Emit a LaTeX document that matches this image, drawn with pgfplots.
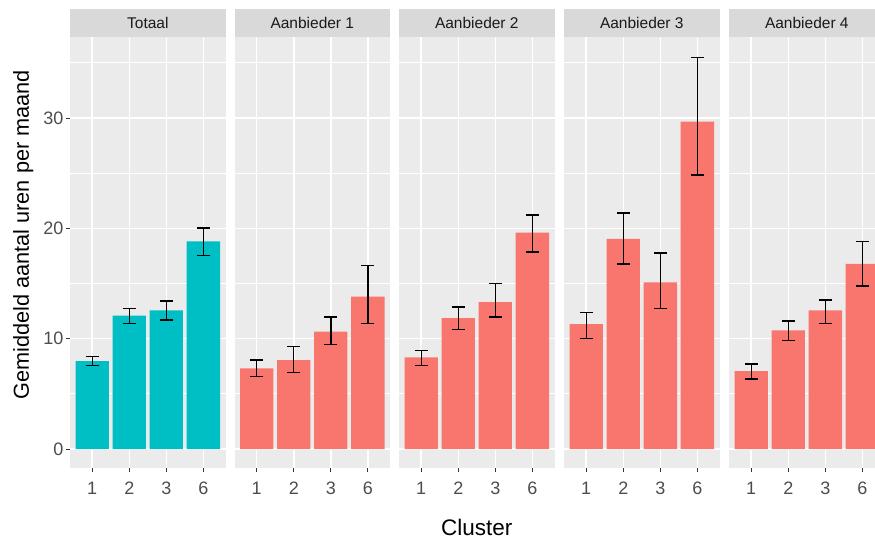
\documentclass[border=0pt]{standalone}
\usepackage{fontspec}
\setmainfont{Liberation Sans}
\usepackage{pgfplots}
\pgfplotsset{compat=1.18}
\usepackage{pgfplotstable}
\definecolor{ggteal}{HTML}{00BFC4}
\definecolor{ggred}{HTML}{F8766D}
\definecolor{panelbg}{HTML}{EBEBEB}
\definecolor{stripbg}{HTML}{D9D9D9}
\definecolor{ticktxt}{HTML}{4D4D4D}
\definecolor{tickcol}{HTML}{333333}
\definecolor{striptxt}{HTML}{1A1A1A}

\pgfplotstableread{
x y ep em
1 7.97 0.39 0.42
2 12.10 0.64 0.72
3 12.56 0.87 0.85
4 18.81 1.21 1.27
}\totaal
\pgfplotstableread{
x y ep em
1 7.31 0.75 0.76
2 8.06 1.21 1.15
3 10.63 1.33 1.15
4 13.80 2.84 2.42
}\aone
\pgfplotstableread{
x y ep em
1 8.30 0.64 0.75
2 11.87 0.99 1.03
3 13.32 1.66 1.36
4 19.60 1.62 1.73
}\atwo
\pgfplotstableread{
x y ep em
1 11.32 1.06 1.29
2 19.05 2.33 2.29
3 15.10 2.65 2.36
4 29.68 5.80 4.86
}\athree
\pgfplotstableread{
x y ep em
1 7.07 0.63 0.73
2 10.75 0.84 0.94
3 12.56 0.96 1.18
4 16.79 2.02 2.03
}\afour

\pgfplotsset{
  facet/.style={
    anchor=south west,
    scale only axis, width=155.6pt, height=431pt,
    xmin=0.4, xmax=4.6, ymin=-1.72, ymax=37.34,
    xtick={1,2,3,4}, xticklabels={1,2,3,6},
    ytick={0,10,20,30}, minor ytick={5,15,25,35},
    xtick pos=bottom, ytick pos=left,
    xmajorgrids, ymajorgrids, yminorgrids,
    major grid style={white, line width=1.5pt},
    minor grid style={white, line width=0.75pt},
    axis background/.style={fill=panelbg},
    axis line style={draw=none},
    tick align=outside, major tick length=4pt, minor tick length=0pt,
    tick style={tickcol, line width=0.9pt},
    ticklabel style={font=\fontsize{18}{18}\selectfont, text=ticktxt},
    xticklabel style={yshift=-6.5pt},
    yticklabel style={xshift=1pt},
    /pgf/number format/assume math mode=true,
    every axis title/.style={at={(rel axis cs:0.5,1)}, anchor=south, fill=stripbg,
      minimum width=155.6pt, minimum height=28pt, inner sep=0pt,
      text=striptxt, font=\fontsize{15.5}{15.5}\selectfont},
    ybar, bar width=0.9,
  },
  noy/.style={yticklabels={}, ytick style={draw=none}},
  bars/.style={fill=#1, draw=none,
    error bars/.cd, y dir=both, y explicit,
    error bar style={draw=black, line width=1.4pt},
    error mark options={draw=black, line width=1.4pt, mark size=6.5pt, rotate=90}},
}

\begin{document}
\begin{tikzpicture}[x=1pt,y=1pt]
\useasboundingbox (0,0) rectangle (875,540);
\clip (0,0) rectangle (875,540);
\begin{axis}[facet, at={(70pt,72pt)}, title={Totaal},
  ylabel={Gemiddeld aantal uren per maand},
  ylabel style={at={(axis description cs:-0.3,0.541)}, anchor=center,
    font=\fontsize{21.7}{21.7}\selectfont, text=black}]
\addplot[bars=ggteal] table[x=x, y=y, y error plus=ep, y error minus=em] {\totaal};
\end{axis}
\begin{axis}[facet, noy, at={(234.5pt,72pt)}, title={Aanbieder 1}]
\addplot[bars=ggred] table[x=x, y=y, y error plus=ep, y error minus=em] {\aone};
\end{axis}
\begin{axis}[facet, noy, at={(399pt,72pt)}, title={Aanbieder 2},
  xlabel={Cluster},
  xlabel style={at={(axis description cs:0.5,-0.157)}, anchor=base,
    font=\fontsize{22.5}{22.5}\selectfont, text=black}]
\addplot[bars=ggred] table[x=x, y=y, y error plus=ep, y error minus=em] {\atwo};
\end{axis}
\begin{axis}[facet, noy, at={(564pt,72pt)}, title={Aanbieder 3}]
\addplot[bars=ggred] table[x=x, y=y, y error plus=ep, y error minus=em] {\athree};
\end{axis}
\begin{axis}[facet, noy, at={(729pt,72pt)}, title={Aanbieder 4}]
\addplot[bars=ggred] table[x=x, y=y, y error plus=ep, y error minus=em] {\afour};
\end{axis}
\end{tikzpicture}
\end{document}
